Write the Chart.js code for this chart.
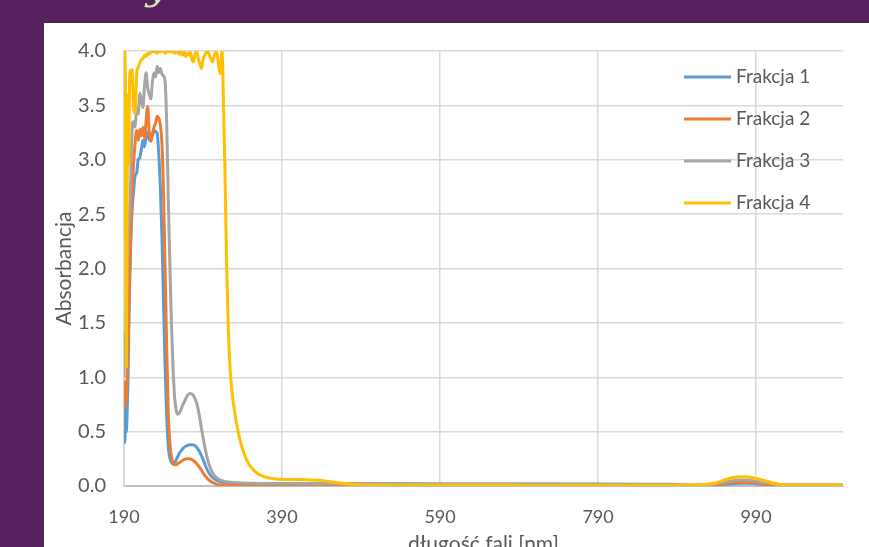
<!DOCTYPE html>
<html>
<head>
<meta charset="utf-8">
<script src="https://cdn.jsdelivr.net/npm/chart.js@4.4.1/dist/chart.umd.min.js"></script>
<style>
  html, body { margin: 0; padding: 0; background: #561f5d; }
  #wrap { width: 869px; height: 547px; }
</style>
</head>
<body>
<div id="wrap"><canvas id="chart" width="869" height="547"></canvas></div>
<script>
// wavelengths in nm (common grid for all fractions)
const wavelengths = [
  190, 191, 192, 193, 194, 195, 196, 197, 198, 199, 200, 201,
  202, 204, 206, 208, 210, 212, 214, 216, 218, 220, 222, 224, 226, 228, 230,
  232, 234, 236, 238, 240, 242, 244, 246, 248, 250, 252, 254, 256, 258, 260,
  262, 264, 266, 268, 270, 272, 274, 276, 278, 280, 282, 284, 286, 288, 290,
  292, 294, 296, 298, 300, 302, 304, 306, 308, 310, 312, 314, 316, 318, 320,
  322, 325, 330, 335, 340, 345, 350, 360, 370, 380, 400, 420, 440, 460, 480, 500,
  550, 600, 650, 700, 750, 800, 850, 880, 900, 910, 920, 940, 950, 960, 970, 980,
  990, 1000, 1010, 1020, 1040, 1060, 1080, 1100
];

const frakcja1 = [
  0.9, 0.4, 0.62, 0.5, 0.7, 0.95, 1.4, 1.8, 2.1, 2.35, 2.5, 2.62,
  2.7, 2.85, 2.88, 3.0, 3.02, 3.1, 3.18, 3.12, 3.22, 3.25, 3.18, 3.24, 3.22, 3.27, 3.26,
  3.24, 3.05, 2.75, 2.3, 1.7, 1.1, 0.65, 0.37, 0.26, 0.22, 0.2, 0.21, 0.24, 0.27, 0.3,
  0.32, 0.34, 0.355, 0.365, 0.372, 0.377, 0.38, 0.38, 0.378, 0.37, 0.355, 0.335, 0.31, 0.28, 0.245,
  0.21, 0.17, 0.14, 0.115, 0.095, 0.08, 0.068, 0.058, 0.05, 0.044, 0.039, 0.035, 0.032, 0.03, 0.028,
  0.027, 0.026, 0.025, 0.024, 0.023, 0.023, 0.022, 0.022, 0.022, 0.022, 0.021, 0.021, 0.02, 0.02, 0.02, 0.02,
  0.02, 0.019, 0.018, 0.018, 0.017, 0.016, 0.014, 0.01, 0.0, -0.005, 0.0, 0.008, 0.015, 0.02, 0.025, 0.025,
  0.02, 0.015, 0.012, 0.01, 0.01, 0.01, 0.01, 0.01
];

const frakcja2 = [
  0.97, 0.72, 0.9, 0.78, 1.0, 1.2, 1.6, 1.95, 2.15, 2.45, 2.65, 2.8,
  2.95, 3.15, 3.27, 3.18, 3.28, 3.22, 3.3, 3.2, 3.36, 3.49, 3.24, 3.17, 3.24, 3.3, 3.34,
  3.4, 3.38, 3.32, 3.15, 2.7, 2.0, 1.3, 0.68, 0.4, 0.27, 0.215, 0.195, 0.195, 0.205, 0.215,
  0.225, 0.235, 0.243, 0.248, 0.25, 0.25, 0.248, 0.242, 0.232, 0.22, 0.205, 0.188, 0.168, 0.145, 0.122,
  0.1, 0.082, 0.066, 0.053, 0.042, 0.033, 0.026, 0.02, 0.015, 0.012, 0.01, 0.008, 0.007, 0.006, 0.005,
  0.005, 0.005, 0.005, 0.005, 0.005, 0.005, 0.005, 0.005, 0.005, 0.005, 0.005, 0.005, 0.005, 0.005, 0.005, 0.005,
  0.005, 0.005, 0.005, 0.005, 0.005, 0.005, 0.005, 0.005, 0.005, 0.004, 0.006, 0.012, 0.022, 0.03, 0.035, 0.034,
  0.028, 0.018, 0.01, 0.006, 0.005, 0.005, 0.005, 0.005
];

const frakcja3 = [
  1.0, 1.4, 1.2, 1.7, 2.0, 2.2, 2.4, 2.5, 2.65, 3.0, 3.2, 3.35,
  3.35, 3.3, 3.47, 3.42, 3.61, 3.55, 3.48, 3.68, 3.8, 3.66, 3.6, 3.56, 3.72, 3.8, 3.76,
  3.86, 3.8, 3.84, 3.79, 3.77, 3.72, 3.35, 2.66, 2.05, 1.5, 1.1, 0.82, 0.7, 0.66, 0.67,
  0.7, 0.74, 0.77, 0.8, 0.83, 0.845, 0.85, 0.845, 0.83, 0.8, 0.76, 0.7, 0.62, 0.53, 0.45,
  0.37, 0.3, 0.24, 0.19, 0.155, 0.125, 0.1, 0.085, 0.072, 0.062, 0.055, 0.049, 0.045, 0.041, 0.038,
  0.036, 0.034, 0.031, 0.029, 0.027, 0.026, 0.025, 0.024, 0.023, 0.022, 0.022, 0.021, 0.021, 0.02, 0.02, 0.02,
  0.019, 0.018, 0.018, 0.018, 0.018, 0.017, 0.016, 0.015, 0.012, 0.01, 0.012, 0.02, 0.035, 0.048, 0.055, 0.054,
  0.045, 0.032, 0.02, 0.013, 0.01, 0.01, 0.01, 0.01
];

const frakcja4 = [
  2.3, 4.0, 3.4, 1.1, 2.6, 3.6, 2.95, 3.7, 3.82, 3.75, 3.83, 3.7,
  3.5, 3.43, 3.79, 3.85, 3.89, 3.92, 3.93, 3.96, 3.95, 3.98, 3.97, 3.99, 4.0, 3.99, 4.0,
  3.98, 4.0, 3.99, 4.0, 4.0, 3.98, 4.0, 3.99, 4.0, 3.99, 4.0, 3.98, 3.99, 4.0, 3.97,
  3.99, 3.96, 3.99, 3.95, 3.98, 3.96, 3.99, 3.92, 3.9, 3.97, 3.99, 3.93, 3.88, 3.84, 3.92,
  3.96, 3.99, 4.0, 3.96, 3.93, 3.9, 3.95, 3.99, 3.97, 3.85, 3.79, 4.0, 3.5, 2.8, 2.0,
  1.45, 1.0, 0.68, 0.48, 0.34, 0.245, 0.18, 0.11, 0.08, 0.067, 0.06, 0.058, 0.05, 0.03, 0.015, 0.01,
  0.01, 0.01, 0.01, 0.008, 0.008, 0.008, 0.008, 0.008, 0.01, 0.01, 0.012, 0.03, 0.055, 0.075, 0.085, 0.082,
  0.07, 0.05, 0.03, 0.015, 0.01, 0.01, 0.01, 0.01
];

const seriesNames = ['Frakcja 1', 'Frakcja 2', 'Frakcja 3', 'Frakcja 4'];
const seriesColors = ['#5b9bd5', '#ed7d31', '#a5a5a5', '#ffc000'];
const xTicks = [190, 390, 590, 790, 990];

const textColor = '#595959';
const fontFamily = 'Lato, "Open Sans", sans-serif';

const allSeries = [frakcja1, frakcja2, frakcja3, frakcja4];

const datasets = allSeries.map((vals, i) => ({
  label: seriesNames[i],
  data: wavelengths.map((w, j) => ({ x: w, y: vals[j] })),
  borderColor: seriesColors[i],
  backgroundColor: seriesColors[i],
  borderWidth: 3,
  pointRadius: 0,
  fill: false,
  cubicInterpolationMode: 'monotone',
  order: 4 - i   // later series drawn on top, like Excel
}));

// slide background: purple with white panel, plus the cut-off title glyph
const slideBg = {
  id: 'slideBg',
  beforeDraw(chart) {
    const c = chart.ctx;
    c.save();
    c.fillStyle = '#561f5d';
    c.fillRect(0, 0, chart.width, chart.height);
    c.fillStyle = '#ffffff';
    c.fillRect(44, 23, chart.width - 44, chart.height - 23);
    c.fillStyle = '#d3e4b4';
    c.font = 'italic 40px "DejaVu Serif", serif';
    c.textBaseline = 'alphabetic';
    c.fillText('y', 146, -1);
    c.restore();
  }
};

// legend inside the plot, right side, vertical like Excel
const insideLegend = {
  id: 'insideLegend',
  afterDraw(chart) {
    const c = chart.ctx;
    c.save();
    c.font = '19px ' + fontFamily;
    c.textBaseline = 'middle';
    c.fillStyle = textColor;
    chart.data.datasets.forEach((ds, i) => {
      const y = 77 + i * 42;
      c.strokeStyle = ds.borderColor;
      c.lineWidth = 3;
      c.beginPath();
      c.moveTo(684, y);
      c.lineTo(731, y);
      c.stroke();
      c.fillText(ds.label, 736, y);
    });
    c.restore();
  }
};

new Chart(document.getElementById('chart'), {
  type: 'line',
  data: { datasets: datasets },
  options: {
    responsive: false,
    animation: false,
    layout: { padding: { left: 44, top: 51, right: 26, bottom: 0 } },
    plugins: {
      legend: { display: false },
      tooltip: { enabled: false }
    },
    scales: {
      x: {
        type: 'linear',
        min: 190,
        max: 1100,
        afterBuildTicks: (scale) => { scale.ticks = xTicks.map(v => ({ value: v })); },
        afterFit: (scale) => { scale.height = 61; },
        grid: { color: '#d9d9d9', lineWidth: 1.5, drawTicks: false },
        border: { color: '#bfbfbf', width: 2 },
        ticks: { color: textColor, font: { family: fontFamily, size: 18 }, padding: 20, maxRotation: 0 },
        title: {
          display: true,
          text: 'długość fali [nm]',
          color: textColor,
          font: { family: fontFamily, size: 21 },
          padding: { top: 0, bottom: -10 }
        }
      },
      y: {
        min: 0,
        max: 4,
        afterFit: (scale) => { scale.width = 80; },
        grid: { color: '#d9d9d9', lineWidth: 1.5, drawTicks: false },
        border: { color: '#d9d9d9', width: 2 },
        ticks: {
          stepSize: 0.5,
          color: textColor,
          font: { family: fontFamily, size: 20 },
          padding: 18,
          callback: (v) => v.toFixed(1)
        },
        title: {
          display: true,
          text: 'Absorbancja',
          color: textColor,
          font: { family: fontFamily, size: 21 },
          padding: { top: 8, bottom: 0 }
        }
      }
    }
  },
  plugins: [slideBg, insideLegend]
});
</script>
</body>
</html>
